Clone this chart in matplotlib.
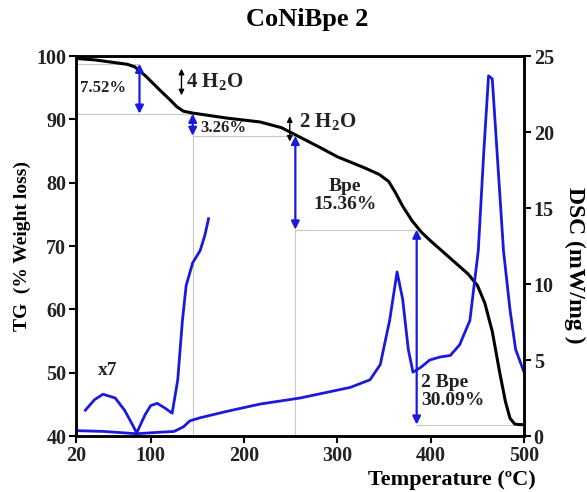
import matplotlib

matplotlib.use("Agg")
import matplotlib.pyplot as plt

# TG curve (temperature in C, weight %)
tg_temp = [22, 40, 60, 75, 83, 95, 110, 120, 128, 135, 145, 182, 217, 240, 252,
           281, 300, 330, 345, 355, 362, 370, 380, 390, 400, 420, 440, 450, 458, 466,
           474, 480, 485, 490, 495, 500]
tg_val = [99.6, 99.4, 99.0, 98.7, 98.3, 96.8, 94.6, 93.2, 92.0, 91.3, 91.0, 90.2,
          89.6, 88.7, 87.8, 85.6, 84.1, 82.3, 81.3, 80.2, 78.5, 76.3, 74.0, 72.2, 70.8,
          68.2, 65.6, 63.8, 61.0, 56.5, 50.0, 45.5, 42.8, 41.9, 41.8, 41.8]

# DSC curve (mW/mg)
dsc_temp = [22, 50, 85, 110, 125, 135, 142, 153, 180, 217, 260, 314, 335, 346, 356,
            364, 370, 376, 381, 389, 399, 410, 421, 431, 442, 451, 457, 462, 466, 471,
            478, 485, 491, 500]
dsc_val = [0.35, 0.3, 0.15, 0.25, 0.3, 0.6, 1.0, 1.2, 1.6, 2.1, 2.5, 3.2, 3.7, 4.7,
           7.6, 10.8, 9.0, 5.7, 4.2, 4.5, 5.0, 5.2, 5.3, 6.0, 7.6, 12.2, 18.8, 23.7,
           23.5, 18.8, 12.2, 8.3, 5.7, 4.2]

# x7 magnified DSC segment
x7_temp = [30, 40, 49, 62, 72, 80, 85, 94, 100, 107, 115, 123, 129, 134, 138, 145,
           153, 158, 162]
x7_val = [1.7, 2.4, 2.75, 2.5, 1.7, 0.8, 0.2, 1.4, 2.0, 2.15, 1.85, 1.5, 3.7, 7.6,
          9.9, 11.4, 12.2, 13.2, 14.3]

serif = "Liberation Serif"
blue = "#1a1adc"
plt.rcParams["mathtext.fontset"] = "custom"
plt.rcParams["mathtext.rm"] = serif
plt.rcParams["mathtext.bf"] = serif + ":bold"

fig = plt.figure(figsize=(5.87, 4.92), dpi=100)
ax = fig.add_axes([0.1295, 0.1138, 0.7632, 0.7722])
ax2 = ax.twinx()

# reference lines
gc = "#c8c8c8"
ax.plot([20, 88], [98.8, 98.8], color=gc, lw=0.8)
ax.plot([20, 145], [90.9, 90.9], color=gc, lw=0.8)
ax.plot([145, 255], [87.4, 87.4], color=gc, lw=0.8)
ax.plot([145, 145], [40, 90.9], color=gc, lw=0.8)
ax.plot([255, 255], [40, 87.4], color=gc, lw=0.8)
ax.plot([255, 385], [72.6, 72.6], color=gc, lw=0.8)
ax.plot([385, 490], [41.8, 41.8], color=gc, lw=0.8)

ax.plot(tg_temp, tg_val, color="black", lw=2.2, zorder=3)
ax2.plot(dsc_temp, dsc_val, color=blue, lw=2.0)
ax2.plot(x7_temp, x7_val, color=blue, lw=2.0)

arrow_kw = dict(arrowstyle="<|-|>", color=blue, lw=1.6, mutation_scale=12, shrinkA=0, shrinkB=0)
for x, y0, y1 in [(88, 98.8, 90.9), (145, 90.9, 87.4), (255, 87.4, 72.6), (385, 72.6, 41.8)]:
    ax.annotate("", xy=(x, y1), xytext=(x, y0), arrowprops=arrow_kw, zorder=4)

black_kw = dict(arrowstyle="<|-|>", color="black", lw=1.0, mutation_scale=8, shrinkA=0, shrinkB=0)
ax.annotate("", xy=(133, 93.8), xytext=(133, 98.0), arrowprops=black_kw)
ax.annotate("", xy=(249, 86.5), xytext=(249, 90.5), arrowprops=black_kw)

tkw = dict(family=serif, fontsize=12, fontweight="bold", color="#222222")
ax.text(24, 94.9, "7.52%", ha="left", va="center", **tkw)
ax.text(138, 95.9, r"4 H$_{\mathbf{2}}$O", ha="left", va="center", **{**tkw, "fontsize": 15})
ax.text(153, 88.6, "3.26%", ha="left", va="center", **tkw)
ax.text(259, 89.6, r"2 H$_{\mathbf{2}}$O", ha="left", va="center", **{**tkw, "fontsize": 15})
ax.text(308, 78.0, "Bpe\n15.36%", ha="center", va="center", linespacing=1.1,
        **{**tkw, "fontsize": 14})
ax.text(390, 47.0, "2 Bpe\n30.09%", ha="left", va="center", linespacing=1.1,
        **{**tkw, "fontsize": 14})
ax.text(44, 50.4, "x7", ha="left", va="center", **{**tkw, "fontsize": 14})

ax.set_xlim(20, 500)
ax.set_ylim(40, 100)
ax2.set_ylim(0, 25)
ax.set_xticks([20, 100, 200, 300, 400, 500])
ax.set_yticks(range(40, 101, 10))
ax2.set_yticks(range(0, 26, 5))

for a in (ax, ax2):
    for s in a.spines.values():
        s.set_linewidth(1.8)
    a.tick_params(width=1.5, length=5, labelsize=14.5, pad=2)
    for lab in a.get_xticklabels() + a.get_yticklabels():
        lab.set_family(serif)
        lab.set_fontweight("bold")
        lab.set_color("#222222")

ax.set_xlabel("Temperature (ºC)", family=serif, fontsize=16, fontweight="bold", va="center")
ax.xaxis.set_label_coords(0.84, -0.116)
ax.set_ylabel("TG  (% Weight loss)", family=serif, fontsize=14, fontweight="bold", va="center")
ax.yaxis.set_label_coords(-0.12, 0.5)
ax2.set_ylabel("DSC (mW/mg )", family=serif, fontsize=17, fontweight="bold",
               rotation=270, va="center", ha="center")
ax2.yaxis.set_label_coords(1.112, 0.45)
ax.set_title("CoNiBpe 2", family=serif, fontsize=19, fontweight="bold", pad=22, x=0.515)

fig.savefig("out.png", dpi=100)
